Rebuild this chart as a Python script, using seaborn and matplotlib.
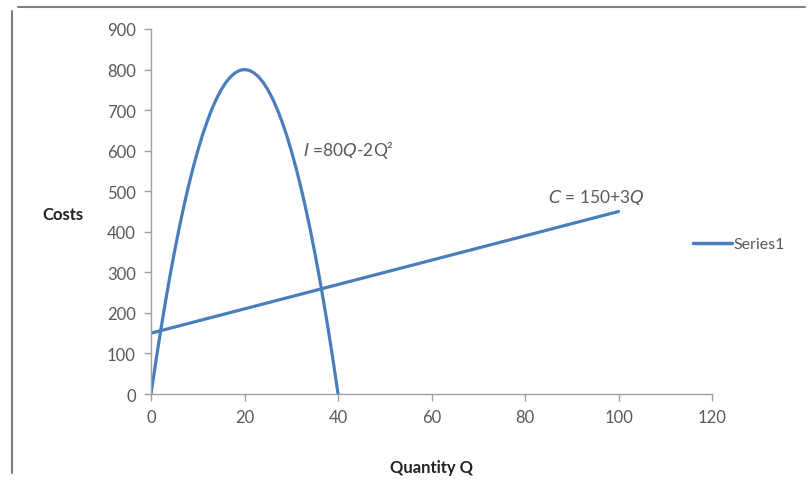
import matplotlib
matplotlib.use("Agg")
import matplotlib.pyplot as plt
import seaborn as sns
import pandas as pd
from matplotlib.lines import Line2D

# values
q_income = list(range(0, 41))
income = [0, 78, 152, 222, 288, 350, 408, 462, 512, 558, 600,
          638, 672, 702, 728, 750, 768, 782, 792, 798, 800,
          798, 792, 782, 768, 750, 728, 702, 672, 638, 600,
          558, 512, 462, 408, 350, 288, 222, 152, 78, 0]
q_cost = [0, 100]
cost = [150, 450]

x_ticks = [0, 20, 40, 60, 80, 100, 120]
y_ticks = [0, 100, 200, 300, 400, 500, 600, 700, 800, 900]

blue = "#4a7ebb"
grey = "#595959"

sns.set_style("white")
plt.rcParams["font.family"] = ["Lato", "DejaVu Sans"]

fig = plt.figure(figsize=(8.09, 4.89), dpi=100)
ax = fig.add_axes([0.1867, 0.1922, 0.6935, 0.7465])

df_i = pd.DataFrame({"Q": q_income, "v": income})
df_c = pd.DataFrame({"Q": q_cost, "v": cost})
sns.lineplot(data=df_i, x="Q", y="v", ax=ax, color=blue, lw=2.3, sort=False)
sns.lineplot(data=df_c, x="Q", y="v", ax=ax, color=blue, lw=2.3, sort=False)

ax.set_xlim(0, 120)
ax.set_ylim(0, 900)
ax.set_xticks(x_ticks)
ax.set_yticks(y_ticks)
ax.tick_params(axis="both", colors="#a0a0a0", labelcolor=grey, labelsize=12,
               direction="out", length=5, width=1, bottom=True, left=True, pad=6)
for s in ["top", "right"]:
    ax.spines[s].set_visible(False)
for s in ["left", "bottom"]:
    ax.spines[s].set_color("#a0a0a0")
    ax.spines[s].set_linewidth(1)

ax.set_xlabel("Quantity Q", fontsize=12, fontweight="bold", color="#222222", labelpad=24)
ax.set_ylabel("")
fig.text(0.052, 0.56, "Costs", fontsize=12, fontweight="bold", color="#222222",
         ha="left", va="center")

ax.text(32.6, 604, "$\\it{I}$ =80$\\it{Q}$-2Q²", fontsize=12.5, color=grey, va="center")
ax.text(85.0, 487, "$\\it{C}$ = 150+3$\\it{Q}$", fontsize=12.5, color=grey, va="center")

handle = Line2D([0], [0], color=blue, lw=2.5)
ax.legend([handle], ["Series1"], loc="center left", bbox_to_anchor=(0.955, 0.41),
          frameon=False, fontsize=11.5, handlelength=2.4, handletextpad=0.1,
          labelcolor=grey, borderaxespad=0)

# outer frame of the chart area
fig.add_artist(Line2D([0.022, 0.995], [0.983, 0.983], color="#808080", lw=1.5,
                      transform=fig.transFigure))
fig.add_artist(Line2D([0.015, 0.015], [0.03, 0.975], color="#808080", lw=1.5,
                      transform=fig.transFigure))

fig.savefig("out.png", dpi=100)
